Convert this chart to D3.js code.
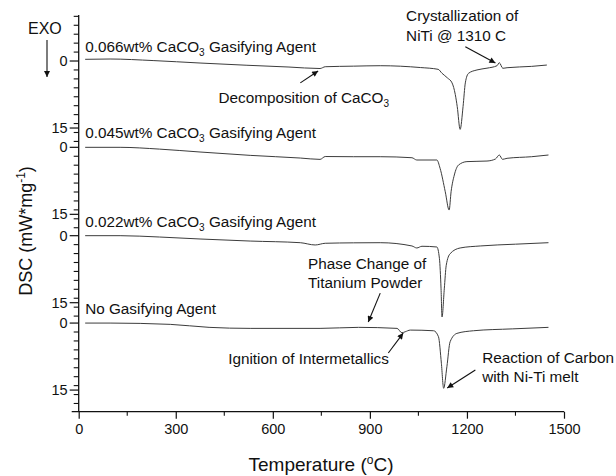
<!DOCTYPE html>
<html><head><meta charset="utf-8">
<script src="https://cdn.jsdelivr.net/npm/d3@7"></script>
<style>body{margin:0;background:#fff}</style>
</head><body><svg id="chart" width="616" height="476"></svg>
<script>
// DSC traces of NiTi samples with different gasifying-agent contents (stacked, exo down)

// Trace labels (the CaCO3 ones carry a subscript 3 and a suffix)
const traceNames = ["0.066wt% CaCO", "0.045wt% CaCO", "0.022wt% CaCO", "No Gasifying Agent"];
const traceHasCaCO3 = [true, true, true, false];

// Temperature (°C) and DSC signal (mW/mg, plotted downward) for each trace
const temp066 = [20, 97, 230, 375, 520, 650, 746, 762, 850, 932, 1056, 1111, 1123, 1140, 1154, 1164, 1170, 1179, 1188, 1195, 1205, 1231, 1262, 1293, 1300, 1311, 1324, 1400, 1447];
const dsc066  = [-0.38, -0.45, -0.1, 0.45, 0.95, 1.35, 1.68, 1.28, 1.15, 1.05, 1.46, 1.86, 2.75, 3.8, 4.9, 7.5, 10.2, 15.3, 10.2, 4.9, 2.75, 2.0, 1.6, 1.05, 0.38, 1.63, 1.5, 1.2, 0.9];

const temp045 = [20, 128, 250, 375, 530, 685, 746, 762, 850, 932, 1030, 1045, 1107, 1117, 1133, 1145, 1151, 1161, 1174, 1200, 1262, 1288, 1300, 1310, 1324, 1400, 1452];
const dsc045  = [0, 0, 0.4, 1.05, 1.8, 2.4, 2.7, 2.06, 2.1, 2.1, 2.33, 2.84, 2.84, 4.7, 9.94, 14.04, 9.94, 6.2, 3.96, 3.2, 3.07, 2.62, 1.72, 2.69, 2.46, 2.1, 1.72];

const temp022 = [20, 128, 250, 375, 530, 685, 731, 762, 850, 932, 1030, 1045, 1061, 1107, 1115, 1120, 1123, 1130, 1136, 1148, 1179, 1241, 1350, 1452];
const dsc022  = [0, 0, 0.3, 0.74, 1.2, 1.57, 2.08, 1.7, 1.6, 1.57, 2.3, 2.75, 2.37, 2.53, 5.15, 11.9, 18.2, 11.9, 6.63, 4.03, 2.75, 2.3, 1.9, 1.57];

const temp000 = [20, 97, 283, 403, 530, 746, 865, 984, 999, 1009, 1025, 1097, 1112, 1121, 1128, 1138, 1148, 1169, 1220, 1340, 1452];
const dsc000  = [0, 0, 0.29, 0.96, 1.19, 1.19, 0.96, 1.19, 2.17, 1.95, 1.57, 1.72, 3.06, 9.0, 14.6, 9.78, 4.18, 2.31, 1.72, 1.3, 0.96];

// Vertical offset of each trace on the shared DSC axis
const traceOffsets = [0, 19.32, 39.1, 58.66];

// Axis ticks
const xTicks = [0, 300, 600, 900, 1200, 1500];
const yTickLabels = ["0", "15"];

const temps = [temp066, temp045, temp022, temp000];
const dscs = [dsc066, dsc045, dsc022, dsc000];

const font = "'Liberation Sans', Arial, Helvetica, sans-serif";
const ink = "#111";
const labelSize = 15.3;
const svg = d3.select("#chart");

const x = d3.scaleLinear().domain([0, 1500]).range([78.7, 564]);
const y = d3.scaleLinear().domain([-10.3, 78.5]).range([15, 411.7]);

// arrowhead marker
const defs = svg.append("defs");
defs.append("marker").attr("id", "head")
  .attr("viewBox", "0 0 10 10").attr("refX", 10).attr("refY", 5)
  .attr("markerWidth", 8).attr("markerHeight", 6).attr("markerUnits", "userSpaceOnUse")
  .attr("orient", "auto")
  .append("path").attr("d", "M0,0 L10,5 L0,10 z").attr("fill", ink);

// ---- x axis
const xAxisG = svg.append("g").attr("transform", `translate(0,${y.range()[1]})`)
  .call(d3.axisBottom(x).tickValues(xTicks).tickSize(7).tickPadding(5).tickFormat(d3.format("d")));
xAxisG.selectAll(".tick line").attr("stroke", ink).attr("stroke-width", 1.2);
xAxisG.select(".domain").attr("stroke", ink).attr("stroke-width", 1.3).attr("d", `M${x.range()[0] - 7},0H${x.range()[1]}`);
xAxisG.selectAll("text").attr("font-family", font).attr("font-size", 14.5).attr("fill", ink);
const xMinor = d3.range(150, 1500, 300);
svg.append("g").selectAll("line").data(xMinor).join("line")
  .attr("x1", d => x(d)).attr("x2", d => x(d))
  .attr("y1", y.range()[1]).attr("y2", y.range()[1] + 4)
  .attr("stroke", ink).attr("stroke-width", 1.1);

// ---- y axis (single line, labelled 0 and 15 for each trace)
const yAxisG = svg.append("g");
yAxisG.append("line").attr("x1", x.range()[0]).attr("x2", x.range()[0])
  .attr("y1", y.range()[0]).attr("y2", y.range()[1]).attr("stroke", ink).attr("stroke-width", 1.3);
const majorVals = [];
traceOffsets.forEach(o => { majorVals.push({v: o, t: yTickLabels[0]}); majorVals.push({v: o + 15, t: yTickLabels[1]}); });
const minorVals = [];
d3.range(-2, -10.4, -2).forEach(v => minorVals.push(v));
traceOffsets.forEach((o, i) => {
  const end = i < traceOffsets.length - 1 ? traceOffsets[i + 1] : y.domain()[1] + 0.3;
  for (let v = o + 2; v < end - 0.6; v += 2) if (Math.abs(v - (o + 15)) > 0.8) minorVals.push(v);
});
yAxisG.selectAll("line.minor").data(minorVals).join("line").attr("class", "minor")
  .attr("x1", x.range()[0] - 5).attr("x2", x.range()[0])
  .attr("y1", d => y(d)).attr("y2", d => y(d)).attr("stroke", ink).attr("stroke-width", 1.1);
yAxisG.selectAll("line.major").data(majorVals).join("line").attr("class", "major")
  .attr("x1", x.range()[0] - 9).attr("x2", x.range()[0])
  .attr("y1", d => y(d.v)).attr("y2", d => y(d.v)).attr("stroke", ink).attr("stroke-width", 1.2);
yAxisG.selectAll("text").data(majorVals).join("text")
  .attr("x", x.range()[0] - 11).attr("y", d => y(d.v)).attr("dy", "0.35em")
  .attr("text-anchor", "end").attr("font-family", font).attr("font-size", 14.5).attr("fill", ink)
  .text(d => d.t);

// ---- traces
const line = d3.line().x(d => x(d[0])).y(d => y(d[1])).curve(d3.curveMonotoneX);
temps.forEach((ts, i) => {
  const pts = ts.map((t, j) => [t, dscs[i][j] + traceOffsets[i]]);
  svg.append("path").datum(pts).attr("d", line)
    .attr("fill", "none").attr("stroke", "#3c3c3c").attr("stroke-width", 1);
});

// ---- trace labels
traceNames.forEach((name, i) => {
  const t = svg.append("text").attr("x", x(20)).attr("y", y(traceOffsets[i] - 2))
    .attr("font-family", font).attr("font-size", labelSize).attr("fill", ink);
  t.append("tspan").text(name);
  if (traceHasCaCO3[i]) {
    t.append("tspan").attr("font-size", 10).attr("dy", 4).text("3");
    t.append("tspan").attr("dy", -4).text(" Gasifying Agent");
  }
});

// ---- annotations (positions in data units relative to a trace)
function px(T) { return x(T); }
function py(i, v) { return y(traceOffsets[i] + v); }
function note(lines, T, i, v, gap) {
  const t = svg.append("text").attr("font-family", font).attr("font-size", labelSize).attr("fill", ink);
  lines.forEach((ln, k) => {
    const sp = t.append("tspan").attr("x", px(T)).attr("y", py(i, v) + k * gap);
    if (Array.isArray(ln)) {
      sp.text(ln[0]);
      t.append("tspan").attr("font-size", 10).attr("dy", 4).text(ln[1]);
    } else sp.text(ln);
  });
}
function arrow(T0, i0, v0, T1, i1, v1) {
  svg.append("line").attr("x1", px(T0)).attr("y1", py(i0, v0))
    .attr("x2", px(T1)).attr("y2", py(i1, v1))
    .attr("stroke", ink).attr("stroke-width", 1.1).attr("marker-end", "url(#head)");
}

note([["Decomposition of CaCO", "3"]], 432, 0, 9.47, 0);
arrow(685, 0, 4.9, 740, 0, 2.24);

note(["Crystallization of", "NiTi @ 1310 C"], 1012, 0, -8.95, 19.7);
arrow(1195, 0, -3.2, 1288, 0, 0.45);

note(["Phase Change of", "Titanium Powder"], 709, 3, -12.1, 19);
arrow(932, 3, -6.7, 895, 3, -0.22);

note(["Ignition of Intermetallics"], 462, 3, 9.18, 0);
arrow(957, 3, 6.7, 1003, 3, 2.24);

note(["Reaction of Carbon", "with Ni-Ti melt"], 1247, 3, 8.9, 19);
arrow(1226, 3, 10.5, 1139, 3, 14.55);

// ---- EXO direction marker
svg.append("text").attr("x", 28).attr("y", 33.5).attr("font-family", font).attr("font-size", 16).attr("fill", ink).text("EXO");
svg.append("line").attr("x1", 47).attr("x2", 47).attr("y1", 40).attr("y2", 77)
  .attr("stroke", ink).attr("stroke-width", 1.1).attr("marker-end", "url(#head)");

// ---- axis titles
const xt = svg.append("text").attr("x", 321).attr("y", 471).attr("text-anchor", "middle")
  .attr("font-family", font).attr("font-size", 19).attr("fill", ink);
xt.append("tspan").text("Temperature (");
xt.append("tspan").attr("font-size", 12).attr("dy", -7).text("o");
xt.append("tspan").attr("dy", 7).text("C)");

const yt = svg.append("text").attr("transform", "translate(32,231) rotate(-90)").attr("text-anchor", "middle")
  .attr("font-family", font).attr("font-size", 18).attr("fill", ink);
yt.append("tspan").text("DSC (mW*mg");
yt.append("tspan").attr("font-size", 12).attr("dy", -7).text("-1");
yt.append("tspan").attr("dy", 7).text(")");
</script>
</body></html>
